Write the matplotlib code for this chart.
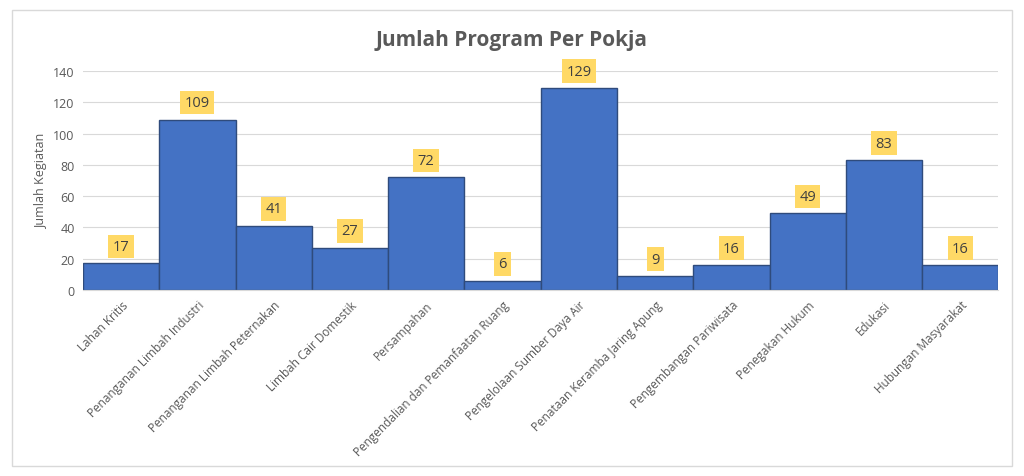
import matplotlib.pyplot as plt
from matplotlib.patches import Rectangle

# Data
categories = ['Lahan Kritis', 'Penanganan Limbah Industri', 'Penanganan Limbah Peternakan',
              'Limbah Cair Domestik', 'Persampahan', 'Pengendalian dan Pemanfaatan Ruang',
              'Pengelolaan Sumber Daya Air', 'Penataan Keramba Jaring Apung',
              'Pengembangan Pariwisata', 'Penegakan Hukum', 'Edukasi', 'Hubungan Masyarakat']
values = [17, 109, 41, 27, 72, 6, 129, 9, 16, 49, 83, 16]

plt.rcParams['font.family'] = ['Open Sans', 'DejaVu Sans']

fig = plt.figure(figsize=(10.24, 4.77), dpi=100)
ax = fig.add_axes([0.081, 0.39, 0.894, 0.459])

# chart border
fig.patches.append(Rectangle((0.012, 0.022), 0.976, 0.955, transform=fig.transFigure,
                             fill=False, edgecolor='#d9d9d9', linewidth=1))

x = range(len(categories))
ax.bar(x, values, width=1.0, color='#4472C4', edgecolor='#2F4B7C', linewidth=1, zorder=2)

for i, v in enumerate(values):
    ax.text(i, v + 6, str(v), ha='center', va='bottom', fontsize=10.5, color='#404040',
            bbox=dict(boxstyle='square,pad=0.3', facecolor='#FFD966', edgecolor='none'), zorder=3)

ax.set_xlim(-0.5, len(categories) - 0.5)
ax.set_ylim(0, 140)
ax.set_yticks(range(0, 141, 20))
ax.grid(axis='y', color='#d9d9d9', linewidth=0.8, zorder=0)
ax.set_axisbelow(True)

for s in ['top', 'right', 'left']:
    ax.spines[s].set_visible(False)
ax.spines['bottom'].set_color('#d9d9d9')

ax.set_xticks(list(x))
ax.set_xticklabels(categories, rotation=45, ha='right', rotation_mode='anchor',
                   fontsize=8.5, color='#595959')
ax.tick_params(axis='both', length=0, pad=6)
ax.tick_params(axis='y', labelsize=9, labelcolor='#595959')

ax.set_ylabel('Jumlah Kegiatan', fontsize=9, color='#595959')
fig.text(0.5, 0.915, 'Jumlah Program Per Pokja', ha='center', va='center',
         fontsize=15, fontweight='bold', color='#595959')

fig.savefig('out.png', dpi=100)
